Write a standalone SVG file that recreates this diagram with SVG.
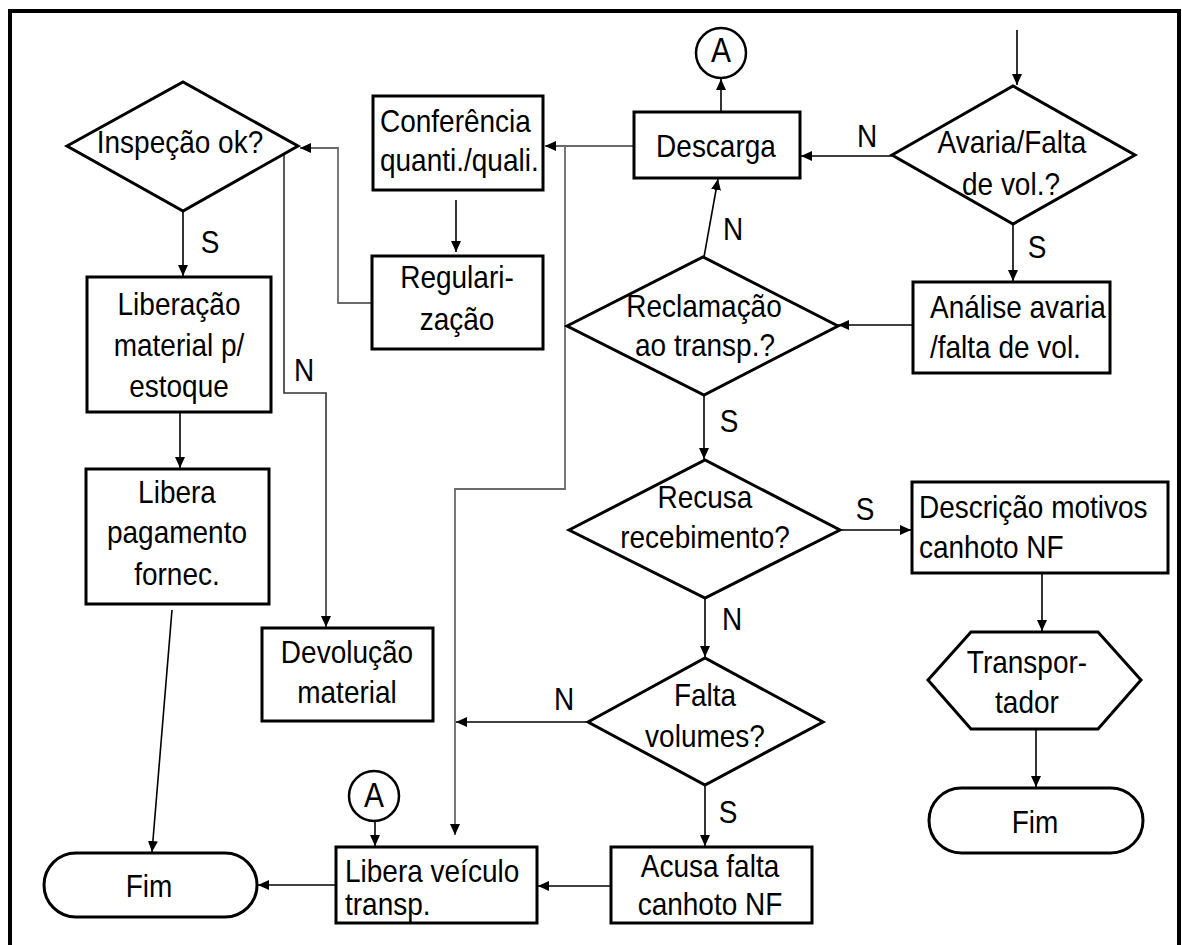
<svg xmlns="http://www.w3.org/2000/svg" width="1182" height="945" viewBox="0 0 1182 945">
<style>
.t{font-family:"Liberation Sans",Arial,sans-serif;font-size:28px;fill:#000;text-anchor:middle;transform:scale(1,1.15)}
.s{text-anchor:start}
.a{font-size:30px}
.box{fill:#fff;stroke:#000;stroke-width:3}
.cir{fill:#fff;stroke:#000;stroke-width:2.5}
.c{fill:none;stroke:#000;stroke-width:1.6;marker-end:url(#ah)}
.g{fill:none;stroke:#6a6a6a;stroke-width:1.8}
.gd{fill:none;stroke:#333;stroke-width:1.6;marker-end:url(#ah)}
</style>
<defs>
<marker id="ah" markerUnits="userSpaceOnUse" markerWidth="11" markerHeight="10" refX="11" refY="5" orient="auto">
<path d="M0,0 L11,5 L0,10 z" fill="#000"/>
</marker>
</defs>
<rect x="0" y="0" width="1182" height="945" fill="#fff"/>
<path d="M10,950 V11 H1179 V950" fill="none" stroke="#000" stroke-width="4"/>

<g id="connectors">
<path class="c" d="M1017,30 V85"/>
<path class="c" d="M892,156 H801"/>
<path class="c" d="M1013,224 V281"/>
<path class="c" d="M913,325 H838"/>
<path class="c" d="M704,257 L718,179"/>
<path class="c" d="M721,112 V79"/>
<path class="g" d="M634,146 H545" marker-end="url(#ah)"/>
<path class="g" d="M565,146 V489 H455 V835" marker-end="url(#ah)"/>
<path class="c" d="M456,200 V252"/>
<path class="g" d="M372,303 H338 V148 H300" marker-end="url(#ah)"/>
<path class="c" d="M183,211 V276"/>
<path class="gd" d="M284,154 V393 H326 V627"/>
<path class="c" d="M180,412 V468"/>
<path class="c" d="M172,610 L152,852"/>
<path class="c" d="M704,395 V459"/>
<path class="c" d="M840,530 H911"/>
<path class="c" d="M705,598 V657"/>
<path class="c" d="M1042,573 V631"/>
<path class="c" d="M1036,729 V787"/>
<path class="c" d="M588,722 H456"/>
<path class="c" d="M705,785 V846"/>
<path class="c" d="M611,886 H538"/>
<path class="c" d="M336,885 H258"/>
<path class="c" d="M375,821 V846"/>
</g>

<g id="labels">
<text class="t" x="210" y="220">S</text>
<text class="t" x="304" y="331.3">N</text>
<text class="t" x="867" y="127.8">N</text>
<text class="t" x="1037" y="224.3">S</text>
<text class="t" x="733" y="208.7">N</text>
<text class="t" x="729" y="375.7">S</text>
<text class="t" x="865" y="452.2">S</text>
<text class="t" x="732" y="547.8">N</text>
<text class="t" x="564" y="617.4">N</text>
<text class="t" x="728" y="715.7">S</text>
</g>

<g id="inspecao">
<polygon class="box" points="67,146 183,82 298,146 183,211"/>
<text class="t" x="180" y="133">Inspeção ok?</text>
</g>

<g id="conferencia">
<rect class="box" x="373" y="96" width="170" height="94"/>
<text class="t s" x="380" y="114.8">Conferência</text>
<text class="t s" x="380" y="148.7">quanti./quali.</text>
</g>

<g id="descarga">
<rect class="box" x="634" y="112" width="166" height="66"/>
<text class="t" x="716" y="136.5">Descarga</text>
</g>

<g id="conector-a-topo">
<circle class="cir" cx="721" cy="53" r="25"/>
<text class="t a" x="721" y="53.9">A</text>
</g>

<g id="avaria">
<polygon class="box" points="892,155 1013,86 1135,155 1013,224"/>
<text class="t" x="1012" y="133">Avaria/Falta</text>
<text class="t" x="1011" y="169.6">de vol.?</text>
</g>

<g id="regularizacao">
<rect class="box" x="372" y="256" width="171" height="93"/>
<text class="t" x="457" y="250.4">Regulari-</text>
<text class="t" x="457" y="287">zação</text>
</g>

<g id="reclamacao">
<polygon class="box" points="567,326 703,257 838,326 704,395"/>
<text class="t" x="704" y="275.7">Reclamação</text>
<text class="t" x="705" y="309.6">ao transp.?</text>
</g>

<g id="analise">
<rect class="box" x="913" y="282" width="197" height="91"/>
<text class="t s" x="930" y="276.5">Análise avaria</text>
<text class="t s" x="930" y="311.3">/falta de vol.</text>
</g>

<g id="liberacao">
<rect class="box" x="87" y="277" width="184" height="135"/>
<text class="t" x="179" y="273.9">Liberação</text>
<text class="t" x="179" y="309.6">material p/</text>
<text class="t" x="179" y="345.2">estoque</text>
</g>

<g id="libera-pagamento">
<rect class="box" x="86" y="469" width="183" height="135"/>
<text class="t" x="177" y="437.4">Libera</text>
<text class="t" x="177" y="472.2">pagamento</text>
<text class="t" x="177" y="508.7">fornec.</text>
</g>

<g id="recusa">
<polygon class="box" points="569,530 705,460 840,530 705,598"/>
<text class="t" x="705" y="441.7">Recusa</text>
<text class="t" x="705" y="476.5">recebimento?</text>
</g>

<g id="descricao">
<rect class="box" x="912" y="482" width="256" height="91"/>
<text class="t s" x="919" y="450.4">Descrição motivos</text>
<text class="t s" x="919" y="485.2">canhoto NF</text>
</g>

<g id="devolucao">
<rect class="box" x="262" y="628" width="171" height="93"/>
<text class="t" x="347" y="576.5">Devolução</text>
<text class="t" x="347" y="611.3">material</text>
</g>

<g id="transportador">
<polygon class="box" points="928,680 971,632 1098,632 1141,680 1098,729 971,729"/>
<text class="t" x="1027" y="585.2">Transpor-</text>
<text class="t" x="1027" y="620">tador</text>
</g>

<g id="falta-volumes">
<polygon class="box" points="588,722 705,658 823,722 705,785"/>
<text class="t" x="705" y="613.9">Falta</text>
<text class="t" x="705" y="649.6">volumes?</text>
</g>

<g id="fim-direita">
<rect class="box" x="929" y="788" width="214" height="65" rx="32.5"/>
<text class="t" x="1035" y="724.3">Fim</text>
</g>

<g id="conector-a-baixo">
<circle class="cir" cx="374" cy="796" r="25"/>
<text class="t a" x="374" y="701.7">A</text>
</g>

<g id="acusa-falta">
<rect class="box" x="611" y="847" width="201" height="76"/>
<text class="t" x="710" y="762.6">Acusa falta</text>
<text class="t" x="710" y="795.7">canhoto NF</text>
</g>

<g id="libera-veiculo">
<rect class="box" x="336" y="847" width="201" height="76"/>
<text class="t s" x="345" y="767">Libera veículo</text>
<text class="t s" x="345" y="795.7">transp.</text>
</g>

<g id="fim-esquerda">
<rect class="box" x="44" y="853" width="213" height="64" rx="32"/>
<text class="t" x="149" y="780">Fim</text>
</g>
</svg>
